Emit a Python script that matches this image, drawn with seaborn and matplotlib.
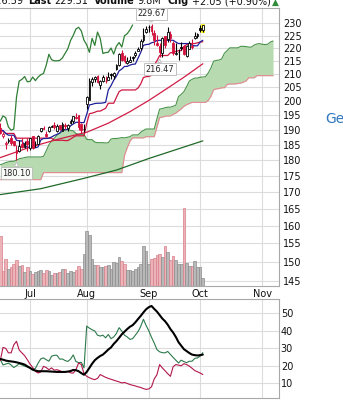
import numpy as np
import pandas as pd
import matplotlib
matplotlib.use("Agg")
import matplotlib.pyplot as plt
from matplotlib.ticker import NullLocator, FixedLocator, FixedFormatter
import seaborn as sns

# ------------------------------------------------------------------ data
first_day, last_day = "2018-06-15", "2018-10-02"
market_holidays = ["2018-07-04", "2018-09-03"]
prev_close = 190.80

opens = [190.78, 187.88, 185.14, 186.35, 187.25, 186.12, 183.40, 182.99, 185.23, 184.10, 186.29,
         183.82, 187.79, 185.26, 185.42, 189.50, 190.71, 188.50, 189.53, 191.08, 191.52, 189.75,
         191.78, 189.69, 191.78, 190.68, 192.45, 193.06, 194.61, 194.99, 191.90, 190.30,
         199.13, 200.58, 207.03, 208.00, 209.32, 206.05, 207.28, 207.36, 207.70, 210.16, 209.22,
         211.75, 213.44, 218.10, 216.80, 214.10, 214.65, 216.60, 217.15, 219.01, 220.15, 223.25, 226.51,
         228.41, 228.99, 226.23, 221.85, 220.95, 218.01, 224.94, 223.52, 225.75, 222.15, 217.79,
         218.50, 220.24, 220.78, 216.82, 219.75, 221.00, 223.82, 224.79,
         227.95, 227.25]
highs = [192.43, 189.22, 186.33, 187.20, 188.35, 186.15, 184.92, 186.53, 187.28, 186.21, 187.19,
         187.30, 187.95, 186.41, 188.43, 190.68, 191.28, 189.78, 191.41, 191.84, 192.65, 191.87,
         191.80, 192.55, 192.43, 191.96, 193.66, 194.85, 195.96, 195.19, 192.20, 192.14,
         201.76, 208.38, 208.74, 209.25, 209.50, 207.81, 209.78, 209.10, 210.95, 210.56, 210.74,
         213.81, 217.95, 219.18, 217.19, 216.36, 217.05, 216.90, 218.74, 220.54, 223.49, 228.26, 228.87,
         229.18, 229.67, 227.35, 225.37, 221.85, 224.30, 225.00, 228.35, 226.84, 222.95, 221.85,
         219.62, 222.28, 221.36, 221.26, 222.82, 223.75, 226.44, 225.84,
         229.42, 229.50]
lows = [188.66, 187.20, 183.45, 185.73, 184.94, 184.70, 180.10, 182.54, 184.03, 183.80, 182.91,
        183.42, 183.54, 184.28, 185.20, 189.30, 190.18, 187.61, 189.31, 190.90, 190.42, 189.20,
        189.93, 189.69, 190.17, 189.56, 192.05, 192.43, 193.61, 190.10, 189.07, 189.34,
        197.31, 200.35, 205.48, 207.07, 206.76, 204.52, 207.20, 206.67, 207.70, 208.26, 208.33,
        211.47, 213.16, 215.11, 214.03, 213.84, 214.60, 215.11, 216.33, 218.92, 219.41, 222.40, 226.00,
        226.63, 225.10, 221.30, 220.71, 216.47, 216.56, 219.84, 222.57, 222.52, 217.27, 217.12,
        215.30, 219.15, 217.29, 216.63, 219.70, 219.76, 223.54, 224.02,
        226.35, 226.63]
closes = [188.84, 188.74, 185.69, 186.50, 185.46, 184.92, 182.17, 184.43, 184.16, 185.50, 185.11,
          187.18, 183.92, 185.40, 187.97, 190.58, 190.35, 187.88, 191.03, 191.33, 190.91, 191.45,
          190.40, 191.88, 191.44, 191.61, 193.00, 194.82, 194.21, 190.98, 189.91, 190.29,
          201.50, 207.39, 207.99, 209.07, 207.11, 207.25, 208.88, 207.53, 208.87, 209.75, 210.24,
          213.32, 217.58, 215.46, 215.04, 215.05, 215.19, 216.16, 217.94, 219.70, 222.98, 225.03, 227.63,
          228.36, 226.87, 223.10, 221.30, 218.33, 223.85, 221.07, 226.41, 223.84, 217.88, 218.24,
          218.37, 220.03, 217.66, 220.79, 222.19, 220.42, 224.95, 225.74,
          227.26, 229.31]
volume_m = [61.7, 18.5, 33.5, 20.6, 23.5, 27.2, 31.6, 24.6, 25.3, 17.4, 22.7,
            17.7, 13.9, 16.6, 17.5, 19.8, 15.9, 18.8, 18.0, 12.5, 15.0, 15.5,
            16.4, 20.3, 20.7, 15.9, 18.7, 16.8, 19.1, 24.0, 21.0, 39.4,
            67.9, 62.4, 33.4, 25.4, 25.4, 22.5, 23.5, 24.6, 25.9, 20.7, 28.8,
            28.5, 35.4, 30.3, 26.2, 19.0, 18.9, 18.5, 20.5, 22.8, 27.3, 48.8, 43.3,
            27.4, 33.3, 34.3, 37.6, 39.5, 35.7, 49.3, 41.7, 32.0, 37.2, 31.6,
            27.1, 26.6, 96.2, 27.7, 24.6, 24.0, 30.2, 22.9,
            23.6, 9.8]
tenkan = [190.0, 189.8, 188.8, 188.2, 188.2, 188.2, 186.5, 186.3, 186.3, 184.7,
          184.2, 184.2, 184.2, 184.0, 184.3, 186.6, 187.1, 187.1, 187.2, 187.6,
          188.1, 188.5, 188.9, 190.1, 190.1, 190.1, 191.4, 192.0, 192.6, 192.6,
          192.5, 192.5, 195.4, 198.7, 198.9, 199.2, 199.3, 199.3, 199.4, 199.6,
          204.1, 205.7, 207.7, 209.2, 211.2, 211.9, 212.9, 212.9, 213.4, 213.7,
          213.8, 216.0, 218.3, 221.1, 221.4, 221.5, 222.1, 222.4, 223.0, 223.1,
          223.1, 223.1, 223.1, 223.1, 223.1, 222.4, 221.8, 221.8, 221.8, 221.8,
          221.8, 221.1, 220.9, 220.9, 222.4, 223.1]
kijun = [189.6, 189.6, 188.8, 188.8, 188.8, 188.8, 187.2, 187.2, 187.2, 187.2,
         187.2, 187.2, 187.2, 187.2, 187.2, 187.2, 187.2, 187.2, 187.2, 187.2,
         186.5, 186.5, 186.5, 186.5, 186.4, 186.4, 186.9, 187.5, 188.0, 188.0,
         188.0, 188.0, 192.2, 195.6, 195.8, 196.1, 196.5, 196.5, 197.0, 197.5,
         199.3, 199.3, 199.3, 201.4, 203.5, 204.1, 204.1, 204.1, 204.1, 204.1,
         204.1, 204.8, 206.3, 208.7, 209.0, 209.1, 209.5, 213.5, 215.0, 217.1,
         217.1, 217.1, 217.1, 218.2, 218.2, 218.7, 219.0, 219.0, 220.6, 221.4,
         221.8, 221.8, 221.8, 222.1, 222.4, 222.5]
span_a = [178.5, 178.8, 179.2, 179.4, 179.6, 179.6, 180.0, 180.4, 180.6, 180.8,
          181.0, 181.0, 181.0, 181.0, 181.0, 181.0, 181.2, 183.0, 185.0, 186.3,
          187.2, 188.2, 188.9, 189.4, 189.9, 190.3, 189.8, 189.7, 188.8, 188.5,
          188.5, 188.5, 186.8, 186.7, 186.7, 185.9, 185.7, 185.7, 185.7, 185.6,
          185.7, 186.9, 187.1, 187.1, 187.2, 187.4, 187.3, 187.5, 187.7, 188.3,
          188.3, 188.3, 189.2, 189.8, 190.3, 190.3, 190.3, 190.3, 193.8, 197.2,
          197.4, 197.7, 197.9, 197.9, 198.2, 198.6, 201.7, 202.5, 203.5, 205.3,
          207.4, 208.0, 208.5, 208.5, 208.8, 208.9, 209.0, 210.4, 212.3, 214.9,
          215.2, 215.3, 215.8, 218.0, 219.0, 220.1, 220.1, 220.1, 220.1, 220.7,
          220.7, 220.6, 220.4, 220.4, 221.2, 221.6, 221.8, 221.5, 221.4, 221.5,
          222.4, 222.8]
span_b = [173.8, 173.8, 173.8, 173.8, 173.8, 173.8, 173.8, 173.8, 173.8, 173.8,
          173.8, 173.8, 173.8, 173.8, 173.8, 173.8, 176.0, 176.0, 176.0, 176.0,
          176.0, 176.0, 176.0, 176.0, 176.0, 176.0, 176.0, 176.0, 176.0, 176.0,
          176.0, 176.0, 176.0, 176.0, 176.0, 176.0, 176.0, 176.0, 176.0, 176.0,
          176.0, 176.0, 176.0, 176.0, 176.0, 176.0, 181.5, 184.0, 186.2, 187.3,
          187.3, 187.3, 187.3, 187.3, 187.7, 187.7, 187.7, 187.7, 190.9, 194.2,
          194.4, 194.7, 194.8, 194.8, 195.4, 195.8, 196.6, 197.3, 198.2, 198.8,
          199.2, 199.6, 199.6, 199.6, 199.6, 199.6, 199.6, 200.3, 201.8, 204.2,
          204.5, 204.6, 204.9, 204.9, 206.1, 206.3, 206.3, 206.3, 206.5, 206.6,
          207.0, 207.4, 208.6, 208.6, 208.6, 209.4, 209.4, 209.4, 209.4, 209.4,
          209.4, 209.4]
sma50_day = [0, 11, 22, 32, 40, 48, 55, 62, 68, 75]
sma50 = [180.8, 184.2, 187.0, 189.2, 192.3, 196.3, 200.3, 204.8, 208.8, 213.9]
sma200_day = [0, 15, 31, 43, 55, 75]
sma200 = [169.2, 171.0, 174.2, 176.8, 180.5, 186.3]

adx = [23.9, 23.5, 23.0, 22.7, 22.5, 22.3, 22.0, 21.6, 21.2, 20.7,
       19.7, 18.8, 17.8, 17.3, 16.9, 16.9, 16.9, 16.9, 16.8, 16.7,
       16.6, 16.5, 16.5, 16.5, 16.5, 16.7, 17.0, 17.6, 17.5, 16.9,
       15.8, 14.9, 16.5, 18.8, 21.2, 23.2, 24.5, 25.6, 26.4, 27.8,
       29.3, 30.5, 32.5, 34.1, 36.0, 38.0, 39.5, 41.0, 42.3, 43.2,
       44.8, 46.7, 48.5, 50.5, 52.3, 53.5, 54.2, 52.5, 51.0, 49.0,
       47.0, 45.5, 43.5, 41.0, 39.0, 36.5, 33.5, 31.5, 29.5, 28.4,
       27.3, 26.4, 26.1, 25.9, 26.1, 26.4]
plus_di = [23.6, 20.5, 21.0, 21.5, 20.5, 19.0, 20.0, 21.2, 20.5, 19.8,
           19.3, 18.8, 18.0, 18.5, 21.5, 24.0, 24.5, 23.5, 22.6, 25.5,
           26.0, 26.0, 23.8, 23.9, 23.0, 22.5, 23.8, 26.2, 22.5, 21.8,
           22.0, 18.8, 42.7, 41.5, 40.6, 39.9, 37.5, 37.0, 37.5, 36.0,
           37.9, 35.5, 36.5, 38.5, 41.8, 39.8, 37.5, 36.5, 35.1, 35.5,
           37.5, 39.5, 42.5, 46.6, 43.0, 40.0, 36.3, 33.0, 29.3, 28.0,
           27.5, 27.4, 28.2, 26.5, 24.8, 23.2, 21.6, 23.2, 22.4, 21.8,
           22.6, 22.6, 24.2, 24.5, 25.5, 27.5]
minus_di = [23.0, 30.5, 30.0, 27.4, 27.4, 32.0, 34.0, 29.0, 27.4, 25.8,
            23.5, 21.0, 19.0, 16.8, 15.9, 16.5, 19.7, 19.0, 17.8, 18.8,
            17.5, 17.8, 17.2, 16.5, 16.6, 16.8, 16.0, 15.8, 17.8, 21.6,
            20.7, 15.5, 14.0, 13.2, 12.5, 12.1, 12.8, 15.0, 14.2, 13.4,
            12.8, 12.3, 11.8, 11.3, 10.8, 10.2, 10.5, 9.9, 9.3, 8.9,
            8.5, 8.0, 7.6, 7.0, 6.5, 6.8, 8.0, 12.5, 14.9, 20.7,
            18.8, 17.2, 15.5, 14.0, 19.5, 20.7, 20.4, 20.0, 21.2, 20.7,
            19.8, 18.6, 17.3, 16.6, 15.9, 15.0]

price_ticks = [145, 150, 155, 160, 165, 170, 175, 180, 185, 190, 195, 200,
               205, 210, 215, 220, 225, 230]
adx_ticks = [10, 20, 30, 40, 50]
note_dates = ["2018-09-05", "2018-09-10", "2018-06-25"]
note_kind = ["high", "low", "low"]
header_lead = "226.59"
header_parts = [("Last", True), ("229.31", False), ("Volume", True),
                ("9.8M", False), ("Chg", True), ("+2.05 (+0.90%)", False)]

# ------------------------------------------------------------------ layout helpers
W_PX, H_PX = 343, 400


def box(x0, y0, x1, y1):
    return [x0 / W_PX, 1 - y1 / H_PX, (x1 - x0) / W_PX, (y1 - y0) / H_PX]


def fpt(x, y):
    return x / W_PX, 1 - y / H_PX


sns.set_style("white")
plt.rcParams["font.family"] = ["DejaVu Sans"]

dates = pd.bdate_range(first_day, last_day, freq="C", holidays=market_holidays)
n = len(dates)
day = np.arange(n)
proj = len(span_a) - n
cloud_day = np.arange(len(span_a))
future = pd.bdate_range(dates[-1] + pd.Timedelta(days=1), periods=40, freq="C",
                        holidays=market_holidays)
cal = dates.append(future)

x_lo, x_hi = -0.11, 103.1
month_pos = [i for i in range(1, len(cal)) if cal[i].month != cal[i - 1].month and i <= x_hi]
month_lab = [cal[i].strftime("%b") for i in month_pos]

fig = plt.figure(figsize=(3.43, 4.0), dpi=100)
fig.patch.set_facecolor("white")
ax = fig.add_axes(box(0, 8, 278.7, 285.5))
ax2 = fig.add_axes(box(0, 299.3, 278.7, 398.3), sharex=ax)
ax.set_yscale("log")

o, h, l, c = (np.asarray(a, float) for a in (opens, highs, lows, closes))
prev = np.r_[prev_close, c[:-1]]
rising = c >= prev
edge = np.where(rising, "#000000", "#d3123d")
face = np.where(c >= o, "#ffffff", edge)

# volume bars (bottom of price panel, axes-fraction heights)
vol_axis_top = 346.0
vol = np.asarray(volume_m, float)
ax.bar(day, vol / vol_axis_top, width=1.0, bottom=0, transform=ax.get_xaxis_transform(),
       color=list(np.where(rising, "#b8b8b8", "#ebb3b8")),
       edgecolor=list(np.where(rising, "#8c8c8c", "#d9808b")), linewidth=0.5, zorder=1)

# cloud
ax.fill_between(cloud_day, span_a, span_b, color="#b7dab1", lw=0, zorder=1.5)
sns.lineplot(x=cloud_day, y=span_a, ax=ax, color="#4a944a", lw=0.8, zorder=2)
sns.lineplot(x=cloud_day, y=span_b, ax=ax, color="#e68893", lw=0.8, zorder=2)

# moving averages and ichimoku lines
sns.lineplot(x=sma200_day, y=sma200, ax=ax, color="#1f6a28", lw=0.9, zorder=2.2)
sns.lineplot(x=sma50_day, y=sma50, ax=ax, color="#d11d45", lw=0.9, zorder=2.2)
sns.lineplot(x=day[proj:] - proj, y=c[proj:], ax=ax, color="#2f7f35", lw=0.9, zorder=2.3)
sns.lineplot(x=day, y=kijun, ax=ax, color="#cf1742", lw=0.9, zorder=2.4)
sns.lineplot(x=day, y=tenkan, ax=ax, color="#1f1f99", lw=0.9, zorder=2.5)

# last-bar highlight
ax.bar(day[-1], h[-1] - l[-1] + 0.8, bottom=l[-1] - 0.4, width=1.5, color="#ffff33",
       lw=0, zorder=3.5)

# candles
ax.vlines(day, l, h, colors=list(edge), lw=0.8, zorder=4)
ax.bar(day, np.maximum(np.abs(c - o), 0.12), bottom=np.minimum(o, c), width=0.66,
       color=list(face), edgecolor=list(edge), linewidth=0.6, zorder=5)

# high / low notes
date_index = {d.strftime("%Y-%m-%d"): i for i, d in enumerate(dates)}
for d, kind in zip(note_dates, note_kind):
    i = date_index[d]
    val = h[i] if kind == "high" else l[i]
    dy = 7.4 if kind == "high" else (-8.6 if val > 200 else -9.6)
    ax.annotate(f"{val:.2f}", xy=(i, val), xytext=(0, dy), textcoords="offset points",
                ha="center", va="center", fontsize=5.9, color="#222222", zorder=8,
                bbox=dict(boxstyle="square,pad=0.22", fc="white", ec="#bdbdbd", lw=0.7,
                          alpha=0.92),
                arrowprops=dict(arrowstyle="wedge,tail_width=0.45,shrink_factor=0.5",
                                fc="white", ec="#bdbdbd", lw=0.6, shrinkA=0, shrinkB=1.5))

# price axis styling
ax.set_xlim(x_lo, x_hi)
ax.set_ylim(143.76, 236.39)
ax.yaxis.tick_right()
ax.yaxis.set_major_locator(FixedLocator(price_ticks))
ax.yaxis.set_major_formatter(FixedFormatter([str(t) for t in price_ticks]))
ax.yaxis.set_minor_locator(NullLocator())
ax.set_xticks(month_pos)
ax.set_xticklabels(month_lab)
ax.tick_params(axis="y", length=0, pad=3, labelsize=7, colors="#111111")
ax.tick_params(axis="x", length=0, pad=2.5, labelsize=7, colors="#111111")
ax.grid(True, color="#dcdcdc", lw=0.8)
ax.set_axisbelow(True)
ax.set_xlabel("")
ax.set_ylabel("")

# ADX panel
sns.lineplot(x=day, y=plus_di, ax=ax2, color="#2b7a4b", lw=0.8)
sns.lineplot(x=day, y=minus_di, ax=ax2, color="#b3174b", lw=0.8)
sns.lineplot(x=day, y=adx, ax=ax2, color="#000000", lw=1.5)
ax2.set_ylim(1.43, 58.0)
ax2.yaxis.tick_right()
ax2.set_yticks(adx_ticks)
ax2.set_yticklabels([str(t) for t in adx_ticks])
ax2.tick_params(axis="y", length=0, pad=1.5, labelsize=7, colors="#111111")
ax2.tick_params(axis="x", length=0, labelbottom=False)
ax2.grid(True, color="#dcdcdc", lw=0.8)
ax2.set_axisbelow(True)
ax2.set_xlabel("")
ax2.set_ylabel("")

for a in (ax, ax2):
    a.spines["left"].set_visible(False)
    for s in ("right", "top", "bottom"):
        a.spines[s].set_color("#a8a8a8")
        a.spines[s].set_linewidth(0.8)

# header line (cut by the top edge), laid out piece by piece without overlap
renderer = fig.canvas.get_renderer()
head_y = 4.5
fig.text(*fpt(23, head_y), header_lead, fontsize=7, ha="right", va="baseline",
         color="#111111")
x_cur = 28.0
for txt, bold in header_parts:
    t = fig.text(*fpt(x_cur, head_y), txt, fontsize=7,
                 fontweight="bold" if bold else "normal", ha="left", va="baseline",
                 color="#111111")
    x_cur = t.get_window_extent(renderer).x1 + (3.0 if bold else 6.0)
fig.text(*fpt(272, head_y), "\u25b2", fontsize=6.5, color="#2e8b3a", va="baseline")
fig.text(*fpt(325, 123), "Get", fontsize=10, color="#2f78c0", va="baseline")

fig.savefig("out.png", dpi=100)
